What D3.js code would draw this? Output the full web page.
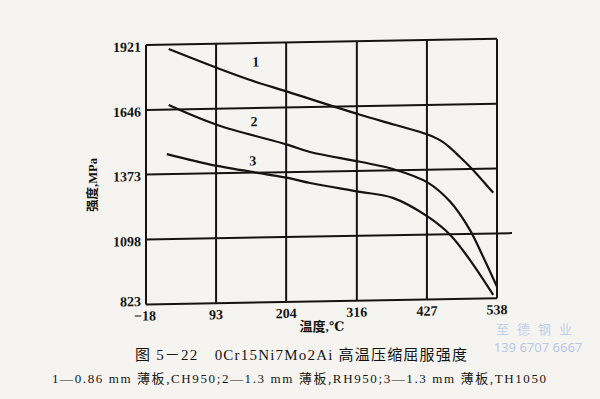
<!DOCTYPE html>
<html>
<head>
<meta charset="utf-8">
<script src="https://cdn.jsdelivr.net/npm/d3@7"></script>
<style>
  html, body { margin: 0; padding: 0; background: #f6f4f1; }
  svg { display: block; }
</style>
</head>
<body>
<div id="chart"></div>
<script>
// Axis ticks
const tempTicks = [-18, 93, 204, 316, 427, 538];
const strengthTicks = [823, 1098, 1373, 1646, 1921];

// Curve 1: 0.86 mm, CH950
const temp1 = [18, 95, 147, 207, 321, 376, 429, 452, 479, 500, 532];
const yield1 = [1902, 1818, 1765, 1712, 1610, 1565, 1520, 1489, 1425, 1368, 1270];
// Curve 2: 1.3 mm, RH950
const temp2 = [18, 95, 207, 242, 321, 373, 429, 464, 495, 516, 538];
const yield2 = [1665, 1577, 1488, 1456, 1411, 1378, 1317, 1235, 1115, 1000, 872];
// Curve 3: 1.3 mm, TH1050
const temp3 = [15, 95, 207, 242, 321, 373, 429, 464, 495, 532];
const yield3 = [1458, 1404, 1348, 1325, 1284, 1256, 1173, 1095, 988, 838];

const curveLabels = ["1", "2", "3"];
const labelTemp = [156, 153, 151];
const labelYield = [1841, 1588, 1422];

const W = 600, H = 399;
const svg = d3.select("#chart").append("svg")
    .attr("width", W).attr("height", H);

const serif = "'Liberation Serif', 'DejaVu Serif', 'Noto Sans CJK SC', serif";
const ink = "#141414";

const x = d3.scaleLinear().domain([-18, 538]).range([146, 497]);
const y = d3.scaleLinear().domain([823, 1921]).range([304.5, 45]);

// the printed figure is slightly tilted
const plot = svg.append("g")
    .attr("transform", "translate(146,0) skewY(-1) translate(-146,0)");

// grid (vertical)
plot.append("g").selectAll("line").data(tempTicks).join("line")
    .attr("x1", d => x(d)).attr("x2", d => x(d))
    .attr("y1", y(823)).attr("y2", y(1921))
    .attr("stroke", ink).attr("stroke-width", 2);

// grid (horizontal) - the 1098 line runs past the frame
plot.append("g").selectAll("line").data(strengthTicks).join("line")
    .attr("x1", x(-18))
    .attr("x2", d => d === 1098 ? x(538) + 15 : x(538))
    .attr("y1", d => y(d)).attr("y2", d => y(d))
    .attr("stroke", ink).attr("stroke-width", 2);

// tick labels
plot.append("g").selectAll("text").data(strengthTicks).join("text")
    .attr("x", 141).attr("y", d => y(d) + (d === 823 ? -3 : 2))
    .attr("text-anchor", "end").attr("dominant-baseline", "central")
    .attr("font-family", serif).attr("font-weight", "bold").attr("font-size", 14)
    .attr("fill", ink)
    .text(d => d);

plot.append("g").selectAll("text").data(tempTicks).join("text")
    .attr("x", d => x(d) + (d < 0 ? -1 : 0)).attr("y", d => y(823) + 16)
    .attr("text-anchor", "middle")
    .attr("font-family", serif).attr("font-weight", "bold").attr("font-size", 14)
    .attr("fill", ink)
    .text(d => d < 0 ? "\u2212" + Math.abs(d) : d);

// curves
const line = d3.line()
    .x(d => x(d[0])).y(d => y(d[1]))
    .curve(d3.curveCatmullRom.alpha(0.5));

const series = [
    d3.zip(temp1, yield1),
    d3.zip(temp2, yield2),
    d3.zip(temp3, yield3)
];

plot.append("g").selectAll("path").data(series).join("path")
    .attr("d", line)
    .attr("fill", "none")
    .attr("stroke", ink)
    .attr("stroke-width", 2.2);

// curve numbers
plot.append("g").selectAll("text").data(curveLabels).join("text")
    .attr("x", (d, i) => x(labelTemp[i]))
    .attr("y", (d, i) => y(labelYield[i]))
    .attr("text-anchor", "middle").attr("dominant-baseline", "central")
    .attr("font-family", serif).attr("font-weight", "bold").attr("font-size", 14)
    .attr("fill", ink)
    .text(d => d);

// axis titles
svg.append("text")
    .attr("x", 322).attr("y", 331)
    .attr("text-anchor", "middle")
    .attr("font-family", serif).attr("font-weight", "bold").attr("font-size", 13)
    .attr("fill", ink)
    .text("温度,℃");

svg.append("text")
    .attr("transform", "translate(93,185) rotate(-90)")
    .attr("text-anchor", "middle").attr("dominant-baseline", "central")
    .attr("font-family", serif).attr("font-weight", "bold").attr("font-size", 12.5)
    .attr("fill", ink)
    .text("强度,MPa");

// caption
svg.append("text")
    .attr("x", 135).attr("y", 360)
    .attr("font-family", serif).attr("font-size", 15)
    .attr("textLength", 332).attr("lengthAdjust", "spacing")
    .attr("fill", ink)
    .text("图 5－22　0Cr15Ni7Mo2Ai 高温压缩屈服强度");

svg.append("text")
    .attr("x", 52).attr("y", 383)
    .attr("font-family", serif).attr("font-size", 13)
    .attr("textLength", 494).attr("lengthAdjust", "spacing")
    .attr("fill", ink)
    .text("1—0.86 mm 薄板,CH950;2—1.3 mm 薄板,RH950;3—1.3 mm 薄板,TH1050");

// watermark
svg.append("text")
    .attr("x", 538).attr("y", 334)
    .attr("text-anchor", "middle")
    .attr("font-family", "'Noto Sans CJK SC', sans-serif").attr("font-size", 13)
    .attr("letter-spacing", 8)
    .attr("fill", "#c3d0ea")
    .text("至德钢业");

svg.append("text")
    .attr("x", 538).attr("y", 352)
    .attr("text-anchor", "middle")
    .attr("font-family", "'Noto Sans', sans-serif").attr("font-size", 13)
    .attr("fill", "#b9c8e8")
    .text("139 6707 6667");
</script>
</body>
</html>
